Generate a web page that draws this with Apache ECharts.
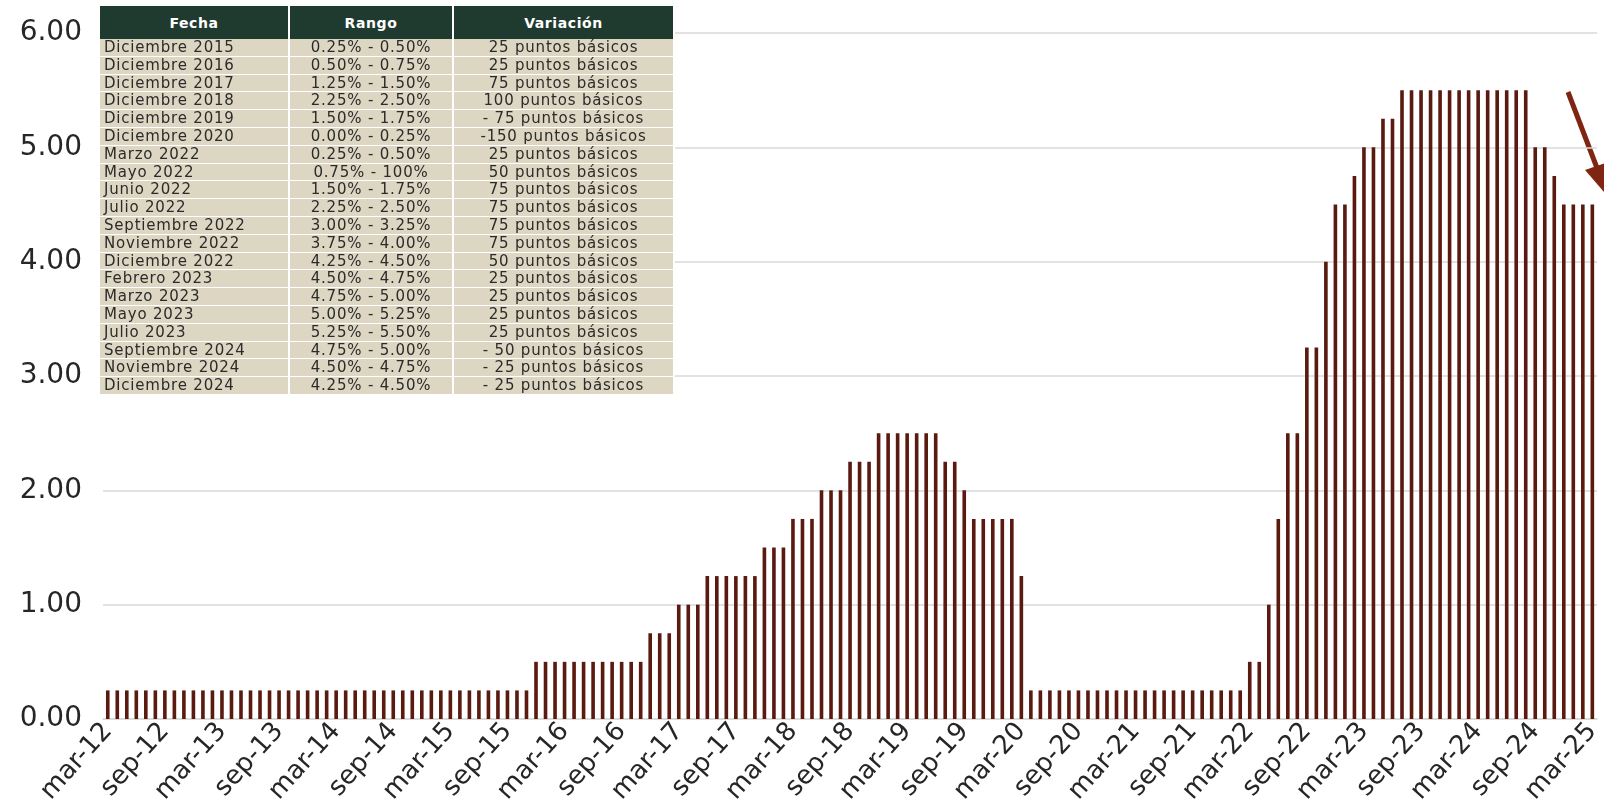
<!DOCTYPE html>
<html>
<head>
<meta charset="utf-8">
<script src="https://cdn.jsdelivr.net/npm/echarts@6.0.0/dist/echarts.min.js"></script>
<style>
  html, body { margin: 0; padding: 0; background: #ffffff; }
  #chart { width: 1604px; height: 812px; }
  #tabla {
    position: absolute; left: 100px; top: 6px; width: 574px;
    border-collapse: collapse; table-layout: fixed;
    font-family: "DejaVu Sans", sans-serif; font-size: 15px; color: #2b2b2b;
    letter-spacing: 0.8px;
  }
  #tabla th {
    background: #1f3a2f; color: #ffffff; font-size: 14px; font-weight: bold;
    letter-spacing: 0.6px;
    height: 33px; padding: 0; border-right: 2px solid #ffffff;
  }
  #tabla td {
    background: #ddd6c2; height: 16.8px; line-height: 16.8px; padding: 0 4px;
    border-bottom: 1.8px solid #ffffff; border-right: 2px solid #ffffff;
    white-space: nowrap; overflow: hidden;
  }
  #tabla td.c { text-align: center; }
</style>
</head>
<body>
<div id="chart"></div>
<table id="tabla"></table>
<script>
// Tasa de fondos federales, limite superior (mensual, mar-12 a mar-25)
const mesesAbrev = ['ene', 'feb', 'mar', 'abr', 'may', 'jun', 'jul', 'ago', 'sep', 'oct', 'nov', 'dic'];
const anioInicio = 2012;
const mesInicio = 2; // marzo
const numMeses = 157;

const tasa = [
  0.25, 0.25, 0.25, 0.25, 0.25, 0.25, 0.25, 0.25, 0.25, 0.25,                   // 2012 (mar-dic)
  0.25, 0.25, 0.25, 0.25, 0.25, 0.25, 0.25, 0.25, 0.25, 0.25, 0.25, 0.25,       // 2013
  0.25, 0.25, 0.25, 0.25, 0.25, 0.25, 0.25, 0.25, 0.25, 0.25, 0.25, 0.25,       // 2014
  0.25, 0.25, 0.25, 0.25, 0.25, 0.25, 0.25, 0.25, 0.25, 0.25, 0.25, 0.50,       // 2015
  0.50, 0.50, 0.50, 0.50, 0.50, 0.50, 0.50, 0.50, 0.50, 0.50, 0.50, 0.75,       // 2016
  0.75, 0.75, 1.00, 1.00, 1.00, 1.25, 1.25, 1.25, 1.25, 1.25, 1.25, 1.50,       // 2017
  1.50, 1.50, 1.75, 1.75, 1.75, 2.00, 2.00, 2.00, 2.25, 2.25, 2.25, 2.50,       // 2018
  2.50, 2.50, 2.50, 2.50, 2.50, 2.50, 2.25, 2.25, 2.00, 1.75, 1.75, 1.75,       // 2019
  1.75, 1.75, 1.25, 0.25, 0.25, 0.25, 0.25, 0.25, 0.25, 0.25, 0.25, 0.25,       // 2020
  0.25, 0.25, 0.25, 0.25, 0.25, 0.25, 0.25, 0.25, 0.25, 0.25, 0.25, 0.25,       // 2021
  0.25, 0.25, 0.50, 0.50, 1.00, 1.75, 2.50, 2.50, 3.25, 3.25, 4.00, 4.50,       // 2022
  4.50, 4.75, 5.00, 5.00, 5.25, 5.25, 5.50, 5.50, 5.50, 5.50, 5.50, 5.50,       // 2023
  5.50, 5.50, 5.50, 5.50, 5.50, 5.50, 5.50, 5.50, 5.00, 5.00, 4.75, 4.50,       // 2024
  4.50, 4.50, 4.50                                                              // 2025 (ene-mar)
];

const yTicks = [0, 1, 2, 3, 4, 5, 6];

// Tabla de decisiones
const encabezados = ['Fecha', 'Rango', 'Variación'];
const fechas = [
  'Diciembre 2015', 'Diciembre 2016', 'Diciembre 2017', 'Diciembre 2018', 'Diciembre 2019',
  'Diciembre 2020', 'Marzo 2022', 'Mayo 2022', 'Junio 2022', 'Julio 2022',
  'Septiembre 2022', 'Noviembre 2022', 'Diciembre 2022', 'Febrero 2023', 'Marzo 2023',
  'Mayo 2023', 'Julio 2023', 'Septiembre 2024', 'Noviembre 2024', 'Diciembre 2024'
];
const rangos = [
  '0.25% - 0.50%', '0.50% - 0.75%', '1.25% - 1.50%', '2.25% - 2.50%', '1.50% - 1.75%',
  '0.00% - 0.25%', '0.25% - 0.50%', '0.75% - 100%', '1.50% - 1.75%', '2.25% - 2.50%',
  '3.00% - 3.25%', '3.75% - 4.00%', '4.25% - 4.50%', '4.50% - 4.75%', '4.75% - 5.00%',
  '5.00% - 5.25%', '5.25% - 5.50%', '4.75% - 5.00%', '4.50% - 4.75%', '4.25% - 4.50%'
];
const variaciones = [
  '25 puntos básicos', '25 puntos básicos', '75 puntos básicos', '100 puntos básicos', '- 75 puntos básicos',
  '-150 puntos básicos', '25 puntos básicos', '50 puntos básicos', '75 puntos básicos', '75 puntos básicos',
  '75 puntos básicos', '75 puntos básicos', '50 puntos básicos', '25 puntos básicos', '25 puntos básicos',
  '25 puntos básicos', '25 puntos básicos', '- 50 puntos básicos', '- 25 puntos básicos', '- 25 puntos básicos'
];

const meses = [];
for (let i = 0; i < numMeses; i++) {
  const m = (mesInicio + i) % 12;
  const y = anioInicio + Math.floor((mesInicio + i) / 12);
  meses.push(mesesAbrev[m] + '-' + String(y).slice(2));
}

function buildTable() {
  const t = document.getElementById('tabla');
  let html = '<colgroup><col style="width:189px"><col style="width:164px"><col style="width:221px"></colgroup>';
  html += '<tr>' + encabezados.map(h => '<th>' + h + '</th>').join('') + '</tr>';
  fechas.forEach((f, i) => {
    html += '<tr><td>' + f + '</td><td class="c">' + rangos[i] + '</td><td class="c">' + variaciones[i] + '</td></tr>';
  });
  t.innerHTML = html;
}

function initChart() {
  const chartDom = document.getElementById('chart');
  const myChart = echarts.init(chartDom, null, { renderer: 'canvas' });

  const option = {
    backgroundColor: '#ffffff',
    animation: false,
    grid: {
      left: 103,
      right: 3,
      top: 33,
      bottom: 93
    },
    xAxis: {
      type: 'category',
      data: meses,
      axisLine: {
        lineStyle: { color: '#d9d9d9', width: 1.5 }
      },
      axisTick: { show: false },
      axisLabel: {
        interval: 5,
        rotate: 48,
        margin: 8,
        fontFamily: 'DejaVu Sans',
        fontSize: 26,
        color: '#262626'
      }
    },
    yAxis: {
      type: 'value',
      min: yTicks[0],
      max: yTicks[yTicks.length - 1],
      interval: 1,
      axisLine: { show: false },
      axisTick: { show: false },
      axisLabel: {
        margin: 21,
        fontFamily: 'DejaVu Sans',
        fontSize: 28,
        color: '#262626',
        formatter: (v) => v.toFixed(2)
      },
      splitLine: {
        lineStyle: { color: '#d9d9d9', width: 1.5 }
      }
    },
    series: [{
      type: 'bar',
      data: tasa,
      barWidth: '38%',
      itemStyle: {
        color: '#5a1a10'
      }
    }],
    graphic: [{
      type: 'group',
      children: [{
        type: 'line',
        shape: { x1: 1568, y1: 92, x2: 1597, y2: 168 },
        style: { stroke: '#7e2612', lineWidth: 5 }
      }, {
        type: 'polygon',
        shape: { points: [[1585, 170], [1608, 162], [1604, 192]] },
        style: { fill: '#7e2612' }
      }]
    }]
  };

  myChart.setOption(option);
  window.addEventListener('resize', () => myChart.resize());
}

buildTable();
initChart();
</script>
</body>
</html>
